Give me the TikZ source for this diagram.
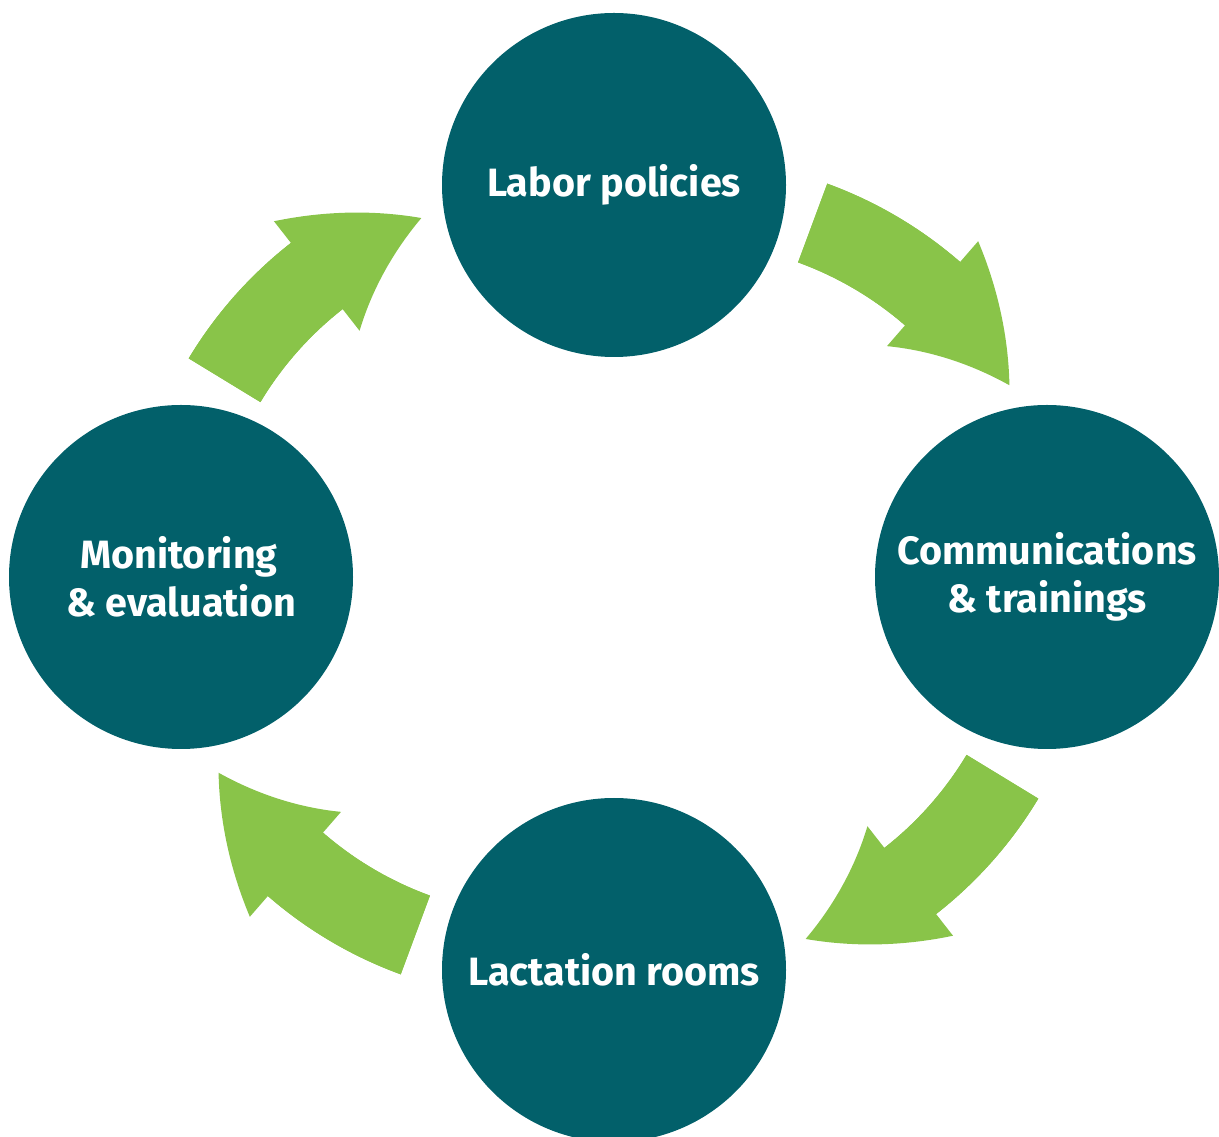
\documentclass[tikz,border=0pt]{standalone}
\usepackage{fontspec}
\setmainfont{Fira Sans}
\usetikzlibrary{arrows.meta,bending}
\definecolor{stagefill}{HTML}{02606A}
\definecolor{cyclegreen}{HTML}{89C449}
\tikzset{
  stage/.style={circle,fill=stagefill,minimum size=344pt,inner sep=0pt,
    text=white,align=center,font=\bfseries\fontsize{39.5}{48}\selectfont},
  cycle shaft/.style={draw=cyclegreen,line width=84pt},
  cycle arrow/.style={cycle shaft,
    -{Triangle[width=139pt,length=121pt,line width=0pt,bend]}}
}
\begin{document}
\begin{tikzpicture}[x=1pt,y=1pt]
\clip (0,0) rectangle (1219,1136);
% the four stages
\node[stage] (labor) at (614,951) {Labor policies};
\node[stage] (comm) at (1047,559) {Communications\\\& trainings};
\node[stage] (lact) at (614,166) {Lactation rooms};
\node[stage] (monit) at (181,559) {\hspace*{-4pt}Monitoring\\\& evaluation};
% centres of the arcs between the stages
\coordinate (c1) at (682,554);
\coordinate (c2) at (675,556);
\coordinate (c3) at (546,560);
\coordinate (c4) at (552,559);
\path (c1) ++(70:382) coordinate (labor-out);
\path (c2) ++(-31:382) coordinate (comm-out);
\path (c3) ++(-110:382) coordinate (lact-out);
\path (c4) ++(149:382) coordinate (monit-out);
% shafts run on a little under the heads
\draw[cycle shaft] (labor-out) arc[start angle=70,end angle=46,radius=382];
\draw[cycle shaft] (comm-out) arc[start angle=-31,end angle=-55,radius=382];
\draw[cycle shaft] (lact-out) arc[start angle=-110,end angle=-134,radius=382];
\draw[cycle shaft] (monit-out) arc[start angle=149,end angle=125,radius=382];
\draw[cycle arrow] (labor-out) arc[start angle=70,end angle=31,radius=382];
\draw[cycle arrow] (comm-out) arc[start angle=-31,end angle=-70,radius=382];
\draw[cycle arrow] (lact-out) arc[start angle=-110,end angle=-149,radius=382];
\draw[cycle arrow] (monit-out) arc[start angle=149,end angle=110,radius=382];
\end{tikzpicture}
\end{document}
